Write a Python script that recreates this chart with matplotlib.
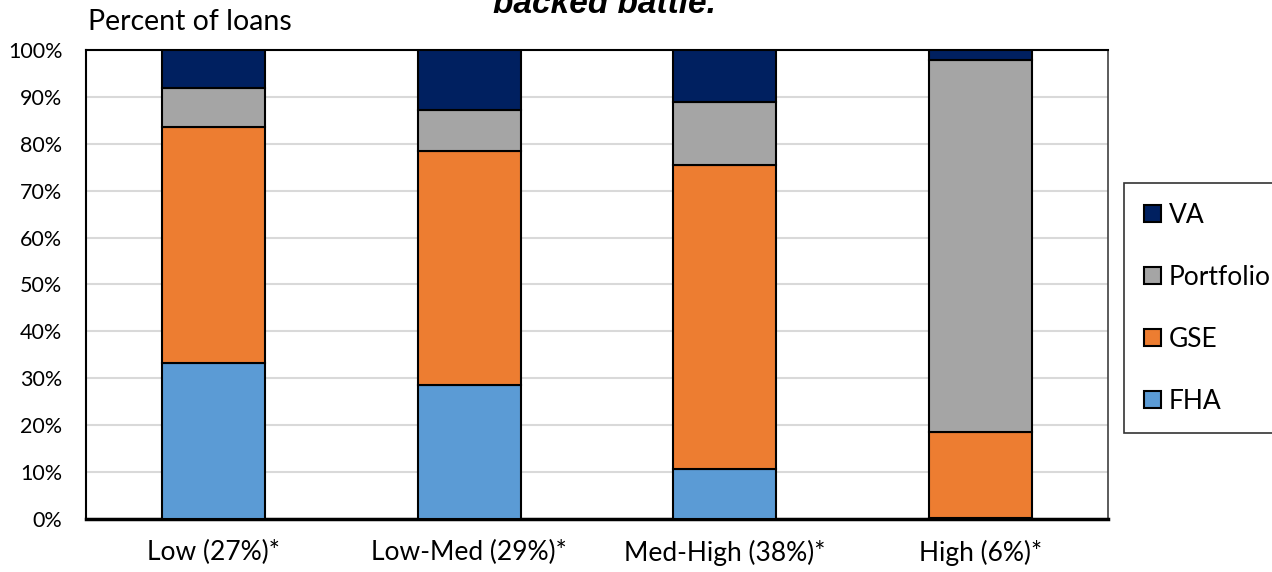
import matplotlib.pyplot as plt
import numpy as np

plt.rcParams["font.family"] = ["Lato", "DejaVu Sans"]

categories = ["Low (27%)*", "Low-Med (29%)*", "Med-High (38%)*", "High (6%)*"]
fha = [33.3, 28.6, 10.7, 0.2]
gse = [50.3, 49.9, 64.8, 18.4]
portfolio = [8.3, 8.7, 13.4, 79.3]
va = [8.1, 12.8, 11.1, 2.1]

series = [("FHA", fha, "#5b9bd5"), ("GSE", gse, "#ed7d31"),
          ("Portfolio", portfolio, "#a5a5a5"), ("VA", va, "#002060")]

fig = plt.figure(figsize=(12.72, 5.72), dpi=100)
ax = fig.add_axes([0.0676, 0.0927, 0.8035, 0.8199])

x = np.arange(len(categories))
bottom = np.zeros(len(categories))
handles = []
for name, vals, color in series:
    b = ax.bar(x, vals, width=0.403, bottom=bottom, color=color,
               edgecolor="black", linewidth=1.5, label=name, zorder=3)
    handles.append(b)
    bottom += np.array(vals)

ax.set_xlim(-0.5, len(categories) - 0.5)
ax.set_ylim(0, 100)
ax.set_yticks(np.arange(0, 101, 10))
ax.set_yticklabels([f"{v}%" for v in range(0, 101, 10)], fontsize=15.5)
ax.set_xticks(x)
ax.set_xticklabels(categories, fontsize=19)
ax.tick_params(axis="x", length=0, pad=15)
ax.tick_params(axis="y", length=0, pad=17)
ax.grid(axis="y", color="#d9d9d9", linewidth=1.5, zorder=0)

for side in ["top", "left"]:
    ax.spines[side].set_color("black")
    ax.spines[side].set_linewidth(1.5)
ax.spines["right"].set_color("#404040")
ax.spines["right"].set_linewidth(1.2)
ax.spines["bottom"].set_color("black")
ax.spines["bottom"].set_linewidth(2.5)

fig.text(0.069, 0.962, "Percent of loans", fontsize=20.5, ha="left", va="center")
fig.text(0.475, 0.977, "backed battle.", fontsize=24, fontweight="bold",
         fontstyle="italic", family=["Liberation Sans", "DejaVu Sans"],
         ha="center", va="baseline")

leg = ax.legend(handles[::-1], [s[0] for s in series][::-1],
                loc="upper left", bbox_to_anchor=(0.8835, 0.68),
                bbox_transform=fig.transFigure, fontsize=19, frameon=True,
                fancybox=False, edgecolor="black", handlelength=0.65,
                handleheight=0.65, handletextpad=0.3, labelspacing=1.4,
                borderpad=0.75, borderaxespad=0)
leg.get_frame().set_linewidth(1.2)

fig.savefig("out.png", dpi=100)
